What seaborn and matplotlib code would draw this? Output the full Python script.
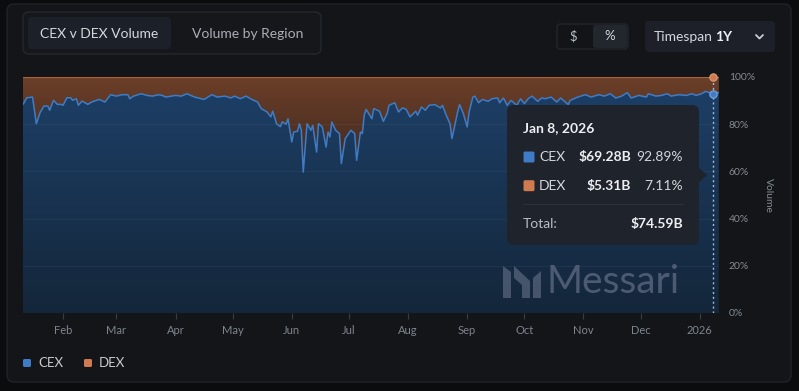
import matplotlib.pyplot as plt
import matplotlib.dates as mdates
from matplotlib.colors import LinearSegmentedColormap
from matplotlib.patches import FancyBboxPatch, Polygon, Rectangle
import numpy as np
import pandas as pd
import seaborn as sns

# CEX share of spot volume (%); DEX is the remainder
dates = [
    "2025-01-11", "2025-01-13", "2025-01-16", "2025-01-18", "2025-01-20", "2025-01-22", "2025-01-24",
    "2025-01-25", "2025-01-27", "2025-01-29", "2025-01-31",
    "2025-02-01", "2025-02-03", "2025-02-05", "2025-02-06", "2025-02-08", "2025-02-09", "2025-02-11",
    "2025-02-14", "2025-02-16", "2025-02-20", "2025-02-23", "2025-02-26",
    "2025-03-01", "2025-03-04", "2025-03-07", "2025-03-08", "2025-03-10", "2025-03-14", "2025-03-17",
    "2025-03-20", "2025-03-23", "2025-03-25", "2025-03-27",
    "2025-04-01", "2025-04-04", "2025-04-07", "2025-04-11", "2025-04-16", "2025-04-20", "2025-04-23",
    "2025-04-27", "2025-04-30",
    "2025-05-02", "2025-05-05", "2025-05-08", "2025-05-11", "2025-05-14", "2025-05-16", "2025-05-19",
    "2025-05-21", "2025-05-22", "2025-05-24", "2025-05-26", "2025-05-27", "2025-05-29", "2025-05-30",
    "2025-06-01", "2025-06-02", "2025-06-04", "2025-06-05", "2025-06-06", "2025-06-07", "2025-06-09",
    "2025-06-11", "2025-06-12", "2025-06-14", "2025-06-15", "2025-06-17", "2025-06-19", "2025-06-20",
    "2025-06-21", "2025-06-22", "2025-06-24", "2025-06-26", "2025-06-27", "2025-06-29",
    "2025-07-02", "2025-07-04", "2025-07-05", "2025-07-07", "2025-07-08", "2025-07-09", "2025-07-10",
    "2025-07-13", "2025-07-14", "2025-07-17", "2025-07-19", "2025-07-21", "2025-07-22", "2025-07-25",
    "2025-07-27", "2025-07-29", "2025-07-31",
    "2025-08-02", "2025-08-05", "2025-08-06", "2025-08-08", "2025-08-10", "2025-08-12", "2025-08-15",
    "2025-08-18", "2025-08-19", "2025-08-21", "2025-08-23", "2025-08-24", "2025-08-27", "2025-08-28",
    "2025-08-30",
    "2025-09-01", "2025-09-02", "2025-09-04", "2025-09-05", "2025-09-07", "2025-09-09", "2025-09-12",
    "2025-09-14", "2025-09-17", "2025-09-18", "2025-09-20", "2025-09-22", "2025-09-24", "2025-09-27",
    "2025-09-29",
    "2025-10-01", "2025-10-03", "2025-10-05", "2025-10-08", "2025-10-10", "2025-10-12", "2025-10-15",
    "2025-10-18", "2025-10-20", "2025-10-24", "2025-10-25", "2025-10-29",
    "2025-11-02", "2025-11-05", "2025-11-09", "2025-11-12", "2025-11-15", "2025-11-18", "2025-11-21",
    "2025-11-24", "2025-11-26", "2025-11-30",
    "2025-12-04", "2025-12-05", "2025-12-09", "2025-12-12", "2025-12-15", "2025-12-17", "2025-12-21",
    "2025-12-25", "2025-12-28", "2025-12-30",
    "2026-01-02", "2026-01-04", "2026-01-06", "2026-01-08", "2026-01-11",
]
cex_pct = [
    88.4, 91.2, 91.5, 80.2, 85.0, 87.7, 87.7,
    85.9, 90.1, 88.4, 88.4,
    88.0, 91.2, 91.2, 90.1, 90.8, 88.0, 89.8,
    88.4, 89.4, 90.5, 89.4, 92.5,
    91.9, 92.5, 92.5, 90.8, 91.9, 92.9, 92.2,
    91.9, 92.5, 92.2, 91.5,
    92.2, 91.9, 92.9, 91.5, 90.5, 92.5, 91.5,
    91.9, 91.1,
    91.9, 90.8, 91.9, 90.5, 89.4, 86.6, 85.2,
    83.1, 85.5, 80.2, 79.0, 81.0, 80.0, 82.3,
    72.5, 76.7, 77.0, 80.2, 77.4, 59.7, 80.2,
    77.4, 79.5, 68.2, 80.2, 78.8, 70.3, 76.7,
    74.6, 80.9, 77.4, 76.0, 63.3, 73.9,
    77.4, 76.0, 64.7, 76.7, 76.0, 83.8, 86.3,
    82.3, 86.6, 85.5, 81.2, 84.5, 88.0, 89.1,
    85.2, 86.9, 86.3,
    83.1, 85.5, 83.8, 87.3, 85.9, 88.0, 88.3,
    86.9, 88.0, 83.8, 80.2, 73.9, 85.2, 88.3,
    84.5,
    78.8, 85.2, 91.5, 91.9, 89.1, 90.5, 89.7,
    90.8, 91.1, 89.1, 91.1, 88.0, 90.1, 88.0,
    90.8,
    88.7, 90.8, 91.9, 89.7, 91.1, 90.8, 91.5,
    89.4, 91.1, 88.3, 90.1, 91.5,
    92.5, 91.5, 92.5, 91.9, 92.9, 91.1, 91.9,
    93.4, 91.1, 92.2,
    91.5, 92.9, 91.9, 92.2, 92.9, 91.9, 92.5,
    92.2, 92.9, 92.2,
    92.9, 93.9, 93.4, 92.89, 93.4,
]

series = ["CEX", "DEX"]
y_ticks = [0, 20, 40, 60, 80, 100]
tabs = ["CEX v DEX Volume", "Volume by Region"]

hover_date = "2026-01-08"
hover_title = "Jan 8, 2026"
hover_values = ["$69.28B", "$5.31B"]
hover_shares = ["92.89%", "7.11%"]
hover_total = "$74.59B"

CEX_C = "#3f7cc6"
DEX_C = "#d07a52"
CARD = "#131519"
TXT = "#d4d7dc"
MUTED = "#858a93"

df = pd.DataFrame({"date": pd.to_datetime(dates), "CEX": cex_pct})
df["DEX"] = 100 - df["CEX"]
df["total"] = df["CEX"] + df["DEX"]

sns.set_theme(style="dark")
plt.rcParams["font.family"] = ["Lato", "DejaVu Sans"]

W, H = 799, 391
fig = plt.figure(figsize=(W / 100, H / 100), dpi=100)
fig.patch.set_facecolor("#0b0c0e")

# pixel-space layer for the card, buttons and legend
bg = fig.add_axes([0, 0, 1, 1], zorder=0)
bg.set_xlim(0, W)
bg.set_ylim(H, 0)
bg.axis("off")
bg.add_patch(FancyBboxPatch((7, 4), 784, 378, boxstyle="round,pad=0,rounding_size=7",
                            fc=CARD, ec="#202329", lw=1))

# tab switcher
bg.add_patch(FancyBboxPatch((23, 12), 298, 42, boxstyle="round,pad=0,rounding_size=6",
                            fc="#15171b", ec="#24272d", lw=1))
bg.add_patch(FancyBboxPatch((28, 17), 143, 32, boxstyle="round,pad=0,rounding_size=4",
                            fc="#1c2028", ec="none"))
bg.text(99.5, 33.5, tabs[0], color=TXT, fontsize=10, ha="center", va="center")
bg.text(248, 33.5, tabs[1], color="#a9aeb6", fontsize=10, ha="center", va="center")

# $ / % toggle
bg.add_patch(FancyBboxPatch((557, 24), 71, 25, boxstyle="round,pad=0,rounding_size=4",
                            fc="#121418", ec="#23262c", lw=1))
bg.add_patch(FancyBboxPatch((593, 25), 34, 23, boxstyle="round,pad=0,rounding_size=3",
                            fc="#22262d", ec="none"))
bg.text(573, 36.5, "$", color="#b9bdc4", fontsize=9.5, ha="center", va="center")
bg.text(610, 36.5, "%", color=TXT, fontsize=9.5, ha="center", va="center")

# timespan dropdown
bg.add_patch(FancyBboxPatch((645, 21), 130, 31, boxstyle="round,pad=0,rounding_size=4",
                            fc="#1d2029", ec="none"))
bg.text(654, 37, "Timespan", color=TXT, fontsize=10, ha="left", va="center")
bg.text(723.5, 37, "1Y", color="#eceef1", fontsize=10, fontweight="bold", ha="center", va="center")
bg.plot([756, 759.5, 763], [35, 38.5, 35], color="#c9ccd2", lw=1.3, solid_capstyle="round")

# legend
for i, (name, col) in enumerate(zip(series, [CEX_C, DEX_C])):
    x0 = 23 + i * 61
    bg.add_patch(FancyBboxPatch((x0, 359), 8, 8, boxstyle="round,pad=0,rounding_size=1.5",
                                fc=col, ec="none"))
    bg.text(x0 + 15, 363, name, color="#c6cad0", fontsize=9.5, ha="left", va="center")

bg.text(768, 195, "Volume", color=MUTED, fontsize=7.5, rotation=270, ha="center", va="center")

# chart
ax = fig.add_axes([23 / W, 1 - 313 / H, 696 / W, 236 / H], zorder=1)
ax.set_facecolor("none")
xnum = mdates.date2num(df["date"])
x_lo = mdates.date2num(pd.Timestamp("2025-01-11"))
x_hi = mdates.date2num(pd.Timestamp("2026-01-11 02:00"))


def gradient_area(lower, upper, top_col, bot_col, y_top, y_bot):
    verts = np.vstack([np.column_stack([xnum, upper]),
                       np.column_stack([xnum[::-1], np.asarray(lower)[::-1]])])
    poly = Polygon(verts, closed=True, fc="none", ec="none")
    ax.add_patch(poly)
    cmap = LinearSegmentedColormap.from_list("g", [top_col, bot_col])
    grad = np.linspace(0, 1, 256).reshape(-1, 1)
    im = ax.imshow(grad, cmap=cmap, aspect="auto", origin="upper",
                   extent=[x_lo, x_hi, y_bot, y_top], zorder=1)
    im.set_clip_path(poly)


gradient_area(df["CEX"], df["total"], "#6c3f28", "#3c271f", 100, 58)
gradient_area(np.zeros(len(df)), df["CEX"], "#1d3f66", "#14263a", 95, 0)

sns.lineplot(data=df, x="date", y="CEX", color=CEX_C, lw=1.1, ax=ax, zorder=3)
sns.lineplot(data=df, x="date", y="total", color="#a8633f", lw=0.9, ax=ax, zorder=3)

# hover crosshair
hx = pd.Timestamp(hover_date)
hrow = df[df["date"] == hx].iloc[0]
ax.axvline(hx, color="#9dbbe0", lw=1, ls=(0, (1.5, 2)), zorder=4)
ax.scatter([hx], [hrow["total"]], s=28, color=DEX_C, edgecolor="#e09a78", lw=0.8, zorder=5, clip_on=False)
ax.scatter([hx], [hrow["CEX"]], s=28, color=CEX_C, edgecolor="#7aa6dc", lw=0.8, zorder=5, clip_on=False)

ax.set_xlim(x_lo, x_hi)
ax.set_ylim(0, 100)
ax.set_xlabel("")
ax.set_ylabel("")
for s in ax.spines.values():
    s.set_visible(False)
ax.grid(False)
for v in y_ticks[1:-1]:
    ax.axhline(v, color="#ffffff", alpha=0.045, lw=0.8, zorder=2)

ax.xaxis.set_major_locator(mdates.MonthLocator())
ax.xaxis.set_major_formatter(plt.FuncFormatter(
    lambda v, p: mdates.num2date(v).strftime("%Y" if mdates.num2date(v).month == 1 else "%b")))
ax.tick_params(axis="x", colors="#383c44", length=4.5, width=0.8, pad=4, labelsize=8,
               labelcolor="#7f848d", bottom=True)
ax.yaxis.tick_right()
ax.set_yticks(y_ticks)
ax.set_yticklabels([f"{v}%" for v in y_ticks])
ax.tick_params(axis="y", length=0, pad=7, labelsize=7.5, labelcolor=MUTED)
for lab in ax.get_yticklabels():
    lab.set_horizontalalignment("left")

# overlay layer: watermark + tooltip
fg = fig.add_axes([0, 0, 1, 1], zorder=2)
fg.set_xlim(0, W)
fg.set_ylim(H, 0)
fg.axis("off")
fg.patch.set_alpha(0)

wm = "#56647a"
fg.add_patch(Polygon([(503, 298), (503, 266), (511, 272), (511, 298)], fc=wm, ec="none", alpha=0.75))
fg.add_patch(Polygon([(514, 278), (514, 266), (530, 281), (530, 298), (522, 298), (522, 285)],
                     fc=wm, ec="none", alpha=0.75))
fg.add_patch(Polygon([(533, 298), (533, 278), (541, 271), (541, 298)], fc=wm, ec="none", alpha=0.75))
fg.text(546, 282, "Messari", color=wm, alpha=0.85, fontsize=28, ha="left", va="center")

TIP = "#1f232b"
fg.add_patch(FancyBboxPatch((507, 105), 192, 140, boxstyle="round,pad=0,rounding_size=7",
                            fc=TIP, ec="none"))
fg.add_patch(Polygon([(698, 167), (707, 175), (698, 183)], fc=TIP, ec="none"))
fg.text(523, 128.5, hover_title, color="#eceef1", fontsize=10, fontweight="bold", ha="left", va="center")
for i, (name, col) in enumerate(zip(series, [CEX_C, DEX_C])):
    yy = 157 + i * 28.7
    fg.add_patch(FancyBboxPatch((523.5, yy - 5.5), 11, 11, boxstyle="round,pad=0,rounding_size=1.5",
                                fc=col, ec="none"))
    fg.text(539, yy, name, color="#d3d6db", fontsize=10, ha="left", va="center")
    fg.text(631, yy, hover_values[i], color="#eceef1", fontsize=10, fontweight="bold",
            ha="right", va="center")
    fg.text(683, yy, hover_shares[i], color="#d3d6db", fontsize=10, ha="right", va="center")
fg.plot([523, 683], [203.5, 203.5], color="#2c313a", lw=0.8)
fg.text(523, 224, "Total:", color="#b9bdc4", fontsize=10, ha="left", va="center")
fg.text(683, 224, hover_total, color="#eceef1", fontsize=10, fontweight="bold", ha="right", va="center")

fig.savefig("out.png", dpi=100, facecolor=fig.get_facecolor())
